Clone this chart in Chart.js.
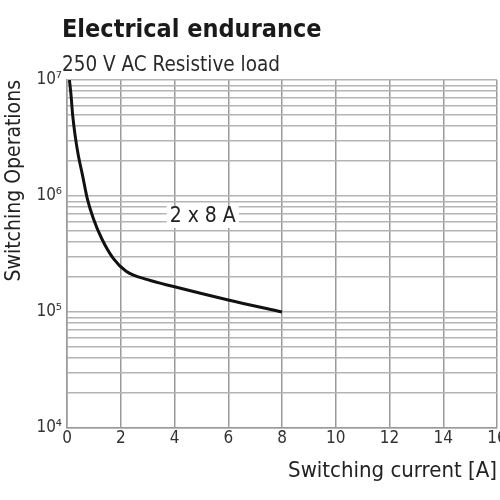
<!DOCTYPE html>
<html>
<head>
<meta charset="utf-8">
<title>Electrical endurance</title>
<script src="https://cdn.jsdelivr.net/npm/chart.js@4/dist/chart.umd.min.js"></script>
<style>
  html, body { margin: 0; padding: 0; background: #fff; overflow: hidden; }
  #wrap { width: 500px; height: 500px; }
</style>
</head>
<body>
<div id="wrap"><canvas id="myChart" width="500" height="500"></canvas></div>
<script>
// Data
const currentA   = [0.09, 0.15, 0.21, 0.30, 0.42, 0.58, 0.75, 0.98, 1.29, 1.72, 2.2, 3.0, 4.0, 6.0, 8.0];
const operations = [1.0e7, 7.4e6, 5.0e6, 3.35e6, 2.25e6, 1.5e6, 9.6e5, 6.4e5, 4.3e5, 2.9e5, 2.25e5, 1.9e5, 1.65e5, 1.27e5, 1.0e5];
const xTicks = [0, 2, 4, 6, 8, 10, 12, 14, 16];
const yDecades = [1e4, 1e5, 1e6, 1e7];
const yDecadeLabels = ['10⁴', '10⁵', '10⁶', '10⁷'];
const curveLabel = '2 x 8 A';
const curveLabelAt = [5.05, 6.6e5];

const chartTitle = 'Electrical endurance';
const chartSubtitle = '250 V AC Resistive load';

const FONT = '"Liberation Sans Narrow", "DejaVu Sans Condensed", "Liberation Sans", sans-serif';

// log grid: 1..9 x 10^n
function logTicks() {
  const out = [];
  for (let d = 0; d < yDecades.length - 1; d++) {
    for (let m = 1; m < 10; m++) out.push({ value: yDecades[d] * m });
  }
  out.push({ value: yDecades[yDecades.length - 1] });
  return out;
}

const headerPlugin = {
  id: 'header',
  afterDraw(chart) {
    const ctx = chart.ctx;
    ctx.save();
    ctx.fillStyle = '#1a1a1a';
    ctx.textBaseline = 'alphabetic';
    ctx.textAlign = 'left';
    ctx.font = 'bold 25px ' + FONT;
    ctx.fillText(chartTitle, 62, 37);
    ctx.fillStyle = '#2a2a2a';
    ctx.font = '20.5px ' + FONT;
    ctx.fillText(chartSubtitle, 62, 71);
    ctx.restore();
  }
};

const curveLabelPlugin = {
  id: 'curveLabel',
  beforeDatasetsDraw(chart) {
    const ctx = chart.ctx;
    const x = chart.scales.x.getPixelForValue(curveLabelAt[0]);
    const y = chart.scales.y.getPixelForValue(curveLabelAt[1]);
    ctx.save();
    ctx.font = '21px ' + FONT;
    const w = ctx.measureText(curveLabel).width;
    ctx.fillStyle = '#fff';
    ctx.fillRect(x - w / 2 - 3, y - 11, w + 6, 22);
    ctx.fillStyle = '#222';
    ctx.textAlign = 'center';
    ctx.textBaseline = 'middle';
    ctx.fillText(curveLabel, x, y);
    ctx.restore();
  }
};

const ctx = document.getElementById('myChart').getContext('2d');
const myChart = new Chart(ctx, {
  type: 'line',
  data: {
    datasets: [{
      label: curveLabel,
      data: currentA.map((c, i) => ({ x: c, y: operations[i] })),
      borderColor: '#111',
      borderWidth: 3,
      pointRadius: 0,
      tension: 0.4,
      cubicInterpolationMode: 'monotone',
      fill: false
    }]
  },
  options: {
    responsive: false,
    animation: false,
    layout: { padding: { top: 80, left: 0, right: 0, bottom: 0 } },
    plugins: {
      legend: { display: false },
      tooltip: { enabled: false },
      title: { display: false }
    },
    scales: {
      x: {
        type: 'linear',
        min: 0,
        max: 16,
        afterBuildTicks(scale) { scale.ticks = xTicks.map(v => ({ value: v })); },
        afterFit(scale) { scale.height = 72; scale.paddingRight = 3; scale.paddingLeft = 0; },
        grid: { color: '#9a9a9a', lineWidth: 1.5, drawTicks: false },
        border: { color: '#9a9a9a', width: 1.5 },
        ticks: { color: '#333', padding: 0, autoSkip: false, maxRotation: 0, font: { family: FONT, size: 17 } },
        title: {
          display: true,
          text: 'Switching current [A]',
          align: 'end',
          color: '#222',
          font: { family: FONT, size: 22 },
          padding: { top: 0, bottom: 16 }
        }
      },
      y: {
        type: 'logarithmic',
        min: 1e4,
        max: 1e7,
        afterBuildTicks(scale) { scale.ticks = logTicks(); },
        afterFit(scale) { scale.width = 67; scale.paddingTop = 0; scale.paddingBottom = 0; },
        grid: { color: '#b4b4b4', lineWidth: 1.5, drawTicks: false },
        border: { color: '#9a9a9a', width: 1.5 },
        ticks: {
          color: '#333',
          padding: 5,
          autoSkip: false,
          font: { family: FONT, size: 17 },
          callback(value) {
            const i = yDecades.indexOf(value);
            return i >= 0 ? yDecadeLabels[i] : '';
          }
        },
        title: {
          display: true,
          text: 'Switching Operations',
          align: 'end',
          color: '#222',
          font: { family: FONT, size: 21 },
          padding: { top: 2, bottom: 0 }
        }
      }
    }
  },
  plugins: [headerPlugin, curveLabelPlugin]
});
</script>
</body>
</html>
